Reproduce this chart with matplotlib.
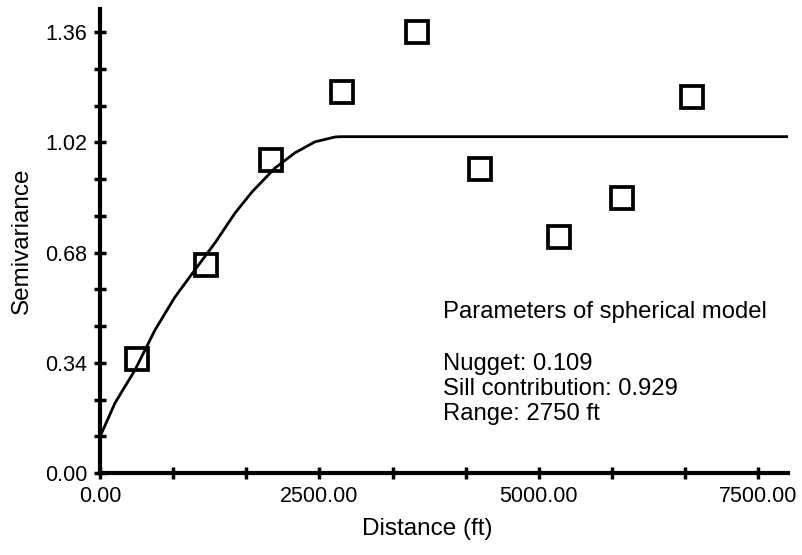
import matplotlib
matplotlib.use("Agg")
import matplotlib.pyplot as plt
from matplotlib.ticker import MultipleLocator

plt.rcParams["font.family"] = ["Liberation Sans", "DejaVu Sans"]

# experimental semivariogram points
lag_ft = [421, 1207, 1948, 2756, 3610, 4328, 5228, 5945, 6743]
semivar = [0.352, 0.642, 0.966, 1.176, 1.361, 0.938, 0.728, 0.849, 1.160]

# fitted spherical model
model_ft = [0, 171, 399, 626, 854, 1082, 1310, 1538, 1731, 1993, 2221, 2449, 2677, 2750, 7840]
model_sv = [0.112, 0.216, 0.318, 0.441, 0.543, 0.627, 0.710, 0.802, 0.867, 0.941, 0.988, 1.022, 1.037, 1.038, 1.038]

params_title = "Parameters of spherical model"
params_lines = ["Nugget: 0.109", "Sill contribution: 0.929", "Range: 2750 ft"]

fig = plt.figure(figsize=(8.03, 5.55), dpi=100)
ax = fig.add_axes([100 / 803, 1 - 473 / 555, 688 / 803, 464 / 555])

ax.plot(model_ft, model_sv, "-", color="black", linewidth=2, zorder=2)
ax.plot(lag_ft, semivar, "s", mfc="none", mec="black", mew=2.7, markersize=16, zorder=3)

ax.set_xlim(0, 7840)
ax.set_ylim(0, 1.432)
ax.xaxis.set_major_locator(MultipleLocator(2500))
ax.xaxis.set_minor_locator(MultipleLocator(2500 / 3))
ax.yaxis.set_major_locator(MultipleLocator(0.34))
ax.yaxis.set_minor_locator(MultipleLocator(0.34 / 3))
ax.xaxis.set_major_formatter(lambda v, p: f"{v:.2f}")
ax.yaxis.set_major_formatter(lambda v, p: f"{v:.2f}")

for s in ("top", "right"):
    ax.spines[s].set_visible(False)
for s in ("left", "bottom"):
    ax.spines[s].set_linewidth(3)
ax.tick_params(which="both", direction="inout", length=8, width=2.5, color="black")
ax.tick_params(which="major", labelsize=15.5, pad=5)

ax.set_xlabel("Distance (ft)", fontsize=17.5)
ax.set_ylabel("Semivariance", fontsize=17.5)
ax.xaxis.set_label_coords(0.475, -0.097)
ax.yaxis.set_label_coords(-0.097, 0.5)

ax.text(0.4985, 0.347, params_title, transform=ax.transAxes, fontsize=17.2, va="center")
for i, line in enumerate(params_lines):
    ax.text(0.4985, 0.234 - i * 0.053, line, transform=ax.transAxes, fontsize=17.2, va="center")

fig.savefig("out.png", dpi=100)
